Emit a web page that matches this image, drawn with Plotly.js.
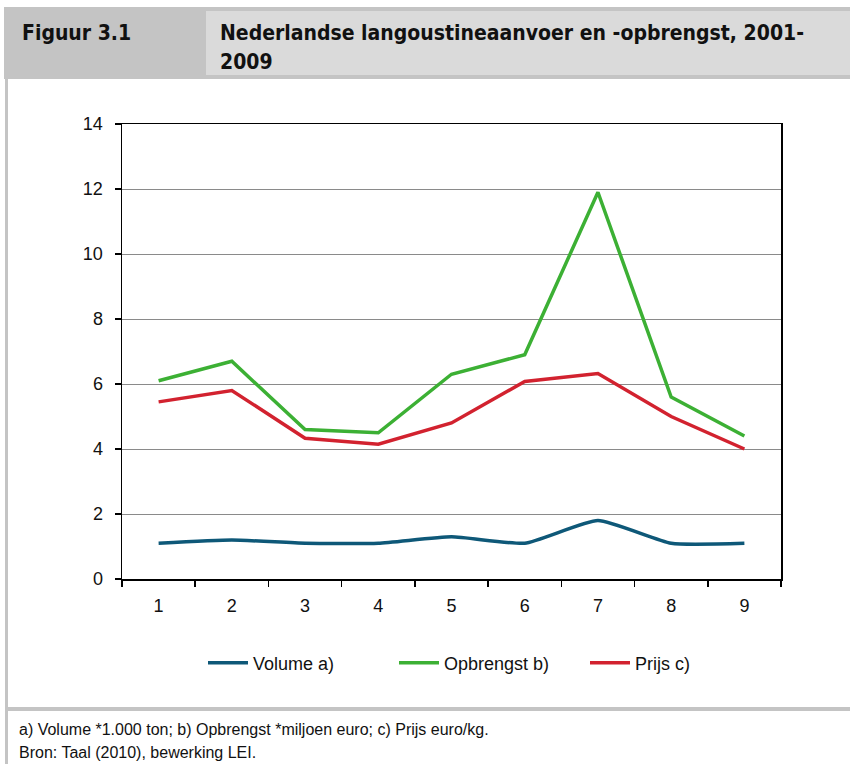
<!DOCTYPE html>
<html>
<head>
<meta charset="utf-8">
<script src="https://cdn.plot.ly/plotly-3.0.1.min.js"></script>
<style>html,body{margin:0;padding:0;background:#fff;} #chart{width:850px;height:764px;}</style>
</head>
<body>
<div id="chart"></div>
<script>
// Data
const categories = ["1","2","3","4","5","6","7","8","9"];
const volume = [1.1, 1.2, 1.1, 1.1, 1.3, 1.1, 1.8, 1.1, 1.1];
const opbrengst = [6.1, 6.7, 4.6, 4.5, 6.3, 6.9, 11.9, 5.6, 4.4];
const prijs = [5.45, 5.8, 4.33, 4.15, 4.8, 6.08, 6.32, 5.0, 4.0];
const seriesNames = ["Volume a)", "Opbrengst b)", "Prijs c)"];
const figLabel = "Figuur 3.1";
const titleLines = ["Nederlandse langoustineaanvoer en -opbrengst, 2001-", "2009"];
const notes = ["a) Volume *1.000 ton; b) Opbrengst *miljoen euro; c) Prijs euro/kg.", "Bron: Taal (2010), bewerking LEI."];

const W = 850, H = 764;
const M = {l: 122, r: 69, t: 124, b: 185};
const PW = W - M.l - M.r, PH = H - M.t - M.b;
const fx = x => (x - M.l) / PW;
const fy = y => (H - M.b - y) / PH;

const FONT = "'Liberation Sans', Arial, sans-serif";
const HFONT = "'DejaVu Sans Condensed', 'Liberation Sans', sans-serif";

const traces = [
  {x: categories, y: volume, name: seriesNames[0], type: 'scatter', mode: 'lines',
   line: {color: '#0e5878', width: 3.5, shape: 'spline', smoothing: 0.5}},
  {x: categories, y: opbrengst, name: seriesNames[1], type: 'scatter', mode: 'lines',
   line: {color: '#3cb034', width: 3.5}},
  {x: categories, y: prijs, name: seriesNames[2], type: 'scatter', mode: 'lines',
   line: {color: '#d2222f', width: 3.5}}
];

const shapes = [
  {type: 'rect', xref: 'paper', yref: 'paper', x0: fx(4), x1: fx(850), y0: fy(79), y1: fy(7),
   fillcolor: '#c4c4c4', line: {width: 0}, layer: 'below'},
  {type: 'rect', xref: 'paper', yref: 'paper', x0: fx(206), x1: fx(850), y0: fy(75), y1: fy(11),
   fillcolor: '#dadada', line: {width: 0}, layer: 'below'},
  {type: 'rect', xref: 'paper', yref: 'paper', x0: fx(5), x1: fx(8), y0: fy(764), y1: fy(79),
   fillcolor: '#c4c4c4', line: {width: 0}, layer: 'below'},
  {type: 'rect', xref: 'paper', yref: 'paper', x0: fx(5), x1: fx(850), y0: fy(711), y1: fy(707),
   fillcolor: '#c4c4c4', line: {width: 0}, layer: 'below'}
];

const annotations = [
  {text: '<b>' + figLabel + '</b>', xref: 'paper', yref: 'paper', x: fx(20), y: fy(33),
   xanchor: 'left', yanchor: 'middle', showarrow: false, font: {family: HFONT, size: 21, color: '#111'}},
  {text: '<b>' + titleLines[0] + '</b>', xref: 'paper', yref: 'paper', x: fx(218), y: fy(33),
   xanchor: 'left', yanchor: 'middle', showarrow: false, font: {family: HFONT, size: 21, color: '#111'}},
  {text: '<b>' + titleLines[1] + '</b>', xref: 'paper', yref: 'paper', x: fx(218), y: fy(62),
   xanchor: 'left', yanchor: 'middle', showarrow: false, font: {family: HFONT, size: 21, color: '#111'}},
  {text: notes[0], xref: 'paper', yref: 'paper', x: fx(17), y: fy(729),
   xanchor: 'left', yanchor: 'middle', showarrow: false, font: {family: FONT, size: 16, color: '#111'}},
  {text: notes[1], xref: 'paper', yref: 'paper', x: fx(17), y: fy(752),
   xanchor: 'left', yanchor: 'middle', showarrow: false, font: {family: FONT, size: 16, color: '#111'}}
];

const layout = {
  width: W, height: H,
  margin: M,
  paper_bgcolor: '#fff', plot_bgcolor: '#fff',
  font: {family: FONT, size: 18, color: '#111'},
  showlegend: true,
  legend: {orientation: 'h', x: fx(203), xanchor: 'left', y: fy(663), yanchor: 'middle',
           font: {family: FONT, size: 18, color: '#111'}, itemwidth: 40, traceorder: 'normal',
           entrywidth: 136, entrywidthmode: 'pixels'},
  xaxis: {type: 'category', range: [-0.5, 8.5], tickson: 'boundaries', ticks: 'outside', ticklen: 6, tickcolor: '#000',
          tickwidth: 1.5, showline: true, mirror: true, linecolor: '#000', linewidth: 1.5,
          showgrid: false, zeroline: false, tickfont: {size: 18}, ticklabelstandoff: 10},
  yaxis: {range: [0, 14], dtick: 2, ticks: 'outside', ticklen: 6, tickcolor: '#000', tickwidth: 1.5,
          showline: true, mirror: true, linecolor: '#000', linewidth: 1.5,
          showgrid: true, gridcolor: '#8a8a8a', gridwidth: 1, zeroline: false, tickfont: {size: 18},
          ticklabelstandoff: 8},
  shapes: shapes,
  annotations: annotations
};

Plotly.newPlot('chart', traces, layout, {displayModeBar: false, staticPlot: true});
</script>
</body>
</html>
